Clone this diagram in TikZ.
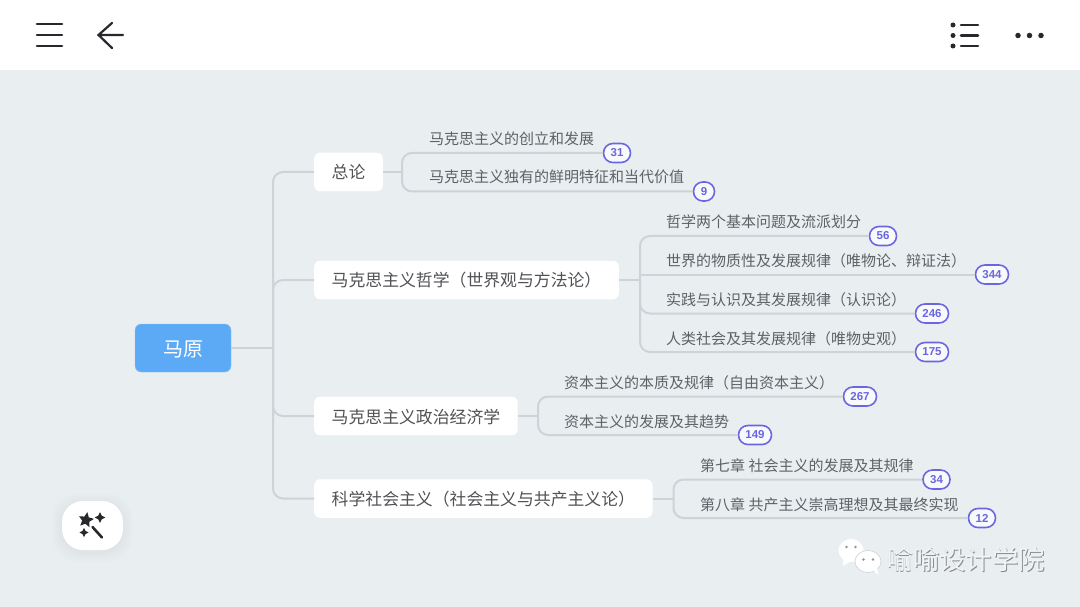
\documentclass[tikz,border=0pt]{standalone}
\usepackage{fontspec}
\setmainfont{Noto Sans CJK SC}
\newfontfamily\numfont{Liberation Sans}
\usetikzlibrary{positioning,shapes.geometric}
\definecolor{canvas}{HTML}{E9EEF1}
\definecolor{rootblue}{HTML}{5CAAF6}
\definecolor{linkgrey}{HTML}{CFD2D6}
\definecolor{leafgrey}{HTML}{5F6165}
\definecolor{pillviolet}{HTML}{6A66E2}
\definecolor{icondark}{HTML}{26282C}
\begin{document}
\begin{tikzpicture}[
		x=1pt, y=-1pt,
		root/.style={fill=rootblue, draw=rootblue!70!white, rounded corners=6pt, text=white, minimum width=96pt, minimum height=48pt, inner sep=0pt, text height=18pt, text depth=2pt, font=\fontsize{20}{24}\selectfont},
		topic/.style={fill=white, rounded corners=6pt, text=leafgrey!85!black, minimum height=38.5pt, inner xsep=17.5pt, inner ysep=0pt, text height=16pt, text depth=2pt, font=\fontsize{16.85}{20}\selectfont},
		leaf/.style={anchor=west, inner sep=0pt, text=leafgrey, text height=14pt, text depth=2pt, font=\fontsize{15}{18}\selectfont},
		pill/.style={draw=pillviolet, line width=1.6pt, fill=canvas!35!white, rounded corners=9.4pt, minimum height=19pt, minimum width=#1, inner sep=0pt, text=pillviolet, font=\numfont\bfseries\fontsize{11.5}{13}\selectfont},
		pill/.default=27pt,
		link/.style={draw=linkgrey, line width=2pt, rounded corners=10pt},
		icon/.style={draw=icondark, line width=2.6pt, line cap=round},
		spot/.style={circle, fill=icondark, minimum size=#1, inner sep=0pt},
		spot/.default=5.5pt,
		sparkle/.style={star, star points=4, star point ratio=2.1, fill=icondark, minimum size=#1, inner sep=0pt},
		brand/.style={anchor=west, inner sep=0pt, font=\fontsize{26.3}{30}\selectfont},
	]
	\useasboundingbox (0,0) rectangle (1080,607);
	\fill[canvas] (0,0) rectangle (1080,607);
	\fill[white] (0,0) rectangle (1080,70);

	% top bar
	\draw[icon] (37,24) -- (62,24) (37,35) -- (62,35) (37,46) -- (62,46);
	\draw[icon, line width=2.2pt] (123,35) -- (99,35) (112,23) -- (98.5,35) -- (112,48);
	\foreach \y in {25,35.5,46} {
		\node[spot=5pt] (dot \y) at (953,\y) {};
		\draw[icon] (961,\y) -- (978,\y);
	}
	\node[spot] (more a) at (1018,35.5) {};
	\node[spot] (more b) at (1029.5,35.5) {};
	\node[spot] (more c) at (1041,35.5) {};

	% centre and topics
	\node[root] (root) at (183,348) {马原};
	\node[topic, anchor=west] (topic a) at (314,172) {总论};
	\node[topic, anchor=west] (topic b) at (314,280) {马克思主义哲学（世界观与方法论）};
	\node[topic, anchor=west] (topic c) at (314,416) {马克思主义政治经济学};
	\node[topic, anchor=west] (topic d) at (314,498.5) {科学社会主义（社会主义与共产主义论）};

	\coordinate (fork) at (273,348);
	\coordinate (fork a) at (402,172);
	\coordinate (fork b) at (640,280);
	\coordinate (fork c) at (538,416);
	\coordinate (fork d) at (673.5,498.5);

	% leaves with their counters
	\node[leaf] (leaf a1) at (429,139) {马克思主义的创立和发展};
	\node[leaf] (leaf a2) at (429,177) {马克思主义独有的鲜明特征和当代价值};
	\node[pill] (count a1) at (617,153) {31};
	\node[pill=21pt] (count a2) at (704,191.5) {9};

	\node[leaf] (leaf b1) at (666,221) {哲学两个基本问题及流派划分};
	\node[leaf] (leaf b2) at (666,260) {世界的物质性及发展规律（唯物论、辩证法）};
	\node[leaf] (leaf b3) at (666,299) {实践与认识及其发展规律（认识论）};
	\node[leaf] (leaf b4) at (666,338) {人类社会及其发展规律（唯物史观）};
	\node[pill] (count b1) at (883,236) {56};
	\node[pill=33pt] (count b2) at (992,274.5) {344};
	\node[pill=33pt] (count b3) at (932,313.5) {246};
	\node[pill=33pt] (count b4) at (932,352) {175};

	\node[leaf] (leaf c1) at (564,382) {资本主义的本质及规律（自由资本主义）};
	\node[leaf] (leaf c2) at (564,421) {资本主义的发展及其趋势};
	\node[pill=33pt] (count c1) at (860,396.5) {267};
	\node[pill=33pt] (count c2) at (755,435) {149};

	\node[leaf] (leaf d1) at (700,465) {第七章 社会主义的发展及其规律};
	\node[leaf] (leaf d2) at (700,504) {第八章 共产主义崇高理想及其最终实现};
	\node[pill] (count d1) at (936.5,479.5) {34};
	\node[pill] (count d2) at (982,518) {12};

	% connectors
	\draw[link] (root) -- (fork);
	\draw[link] (fork) |- (topic a);
	\draw[link] (fork) |- (topic b);
	\draw[link] (fork) |- (topic c);
	\draw[link] (fork) |- (topic d);
	\draw[link] (topic a) -- (fork a);
	\draw[link] (fork a) |- (count a1);
	\draw[link] (fork a) |- (count a2);
	\draw[link] (topic b) -- (fork b);
	\draw[link] (fork b) |- (count b1);
	\draw[link, rounded corners=0pt] (fork b) |- (count b2);
	\draw[link] (fork b) |- (count b3);
	\draw[link] (fork b) |- (count b4);
	\draw[link] (topic c) -- (fork c);
	\draw[link] (fork c) |- (count c1);
	\draw[link] (fork c) |- (count c2);
	\draw[link] (topic d) -- (fork d);
	\draw[link] (fork d) |- (count d1);
	\draw[link] (fork d) |- (count d2);

	% wand button
	\foreach \r in {1,2,...,10} {
		\fill[black, opacity=0.005, rounded corners=24pt] (62-\r,503-\r) rectangle (123+\r,552+\r);
	}
	\fill[white, rounded corners=21pt] (62,501) rectangle (123,550);
	\node[star, star points=5, star point ratio=2.1, fill=icondark, minimum size=16pt, inner sep=0pt, rotate=-10] (wand star) at (86,520) {};
	\node[sparkle=10.5pt] (wand spark a) at (100,517.5) {};
	\node[sparkle=9pt] (wand spark b) at (84,532.5) {};
	\draw[icon, line width=2.6pt] (92.5,527) -- (102,537.5);

	% watermark
	\fill[white] (851,550.5) ellipse[x radius=12.5pt, y radius=11.5pt];
	\fill[white] (843.5,558) -- (843,566) -- (851,561) -- cycle;
	\filldraw[fill=white, draw=linkgrey, line width=.6pt] (868,561.5) ellipse[x radius=13pt, y radius=11pt];
	\fill[white] (873,570) -- (878,575) -- (877,566) -- cycle;
	\fill[linkgrey!70!black] (846.5,547) circle[radius=1.4pt] (855.5,547) circle[radius=1.4pt] (863.5,559.5) circle[radius=1.4pt] (873,559.5) circle[radius=1.4pt];
	\node[brand, text=black!45] (brand back) at (887.6,560.2) {喻喻设计学院};
	\node[brand, text=canvas!65!white] (brand front) at (886.8,559.5) {喻喻设计学院};
\end{tikzpicture}
\end{document}
